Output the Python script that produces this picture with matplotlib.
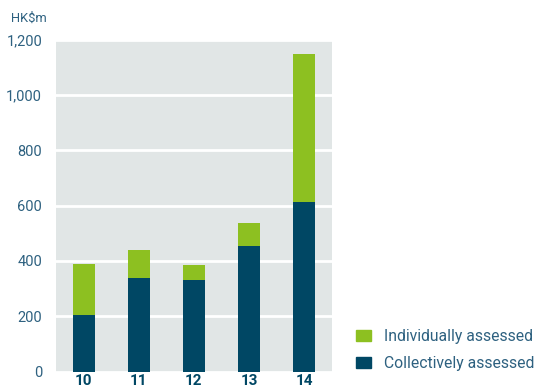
import numpy as np
import matplotlib.pyplot as plt
from matplotlib.patches import Patch

plt.rcParams['font.family'] = ['Roboto', 'DejaVu Sans']

# data
years = ['10', '11', '12', '13', '14']
collective = [203, 338, 330, 455, 615]
individual = [187, 102, 55, 83, 533]

navy = '#004764'
green = '#8dc021'
text_col = '#2e6180'
bg = '#e1e6e6'

fig = plt.figure(figsize=(5.36, 3.87), dpi=100)
ax = fig.add_axes([0.1045, 0.040, 0.5145, 0.857])
ax.set_facecolor(bg)

x = np.arange(len(years))
ax.bar(x, collective, width=0.4, color=navy, zorder=3)
ax.bar(x, individual, width=0.4, bottom=collective, color=green, zorder=3)

ax.set_xlim(-0.5, 4.5)
ax.set_ylim(0, 1200)
ax.set_yticks(range(0, 1201, 200))
ax.set_yticklabels(['0', '200', '400', '600', '800', '1,000', '1,200'])
ax.yaxis.grid(True, color='white', linewidth=2, zorder=1)
ax.set_xticks(x)
ax.set_xticklabels(years, fontweight='bold')
for s in ax.spines.values():
    s.set_visible(False)
ax.tick_params(axis='y', length=0, labelsize=10.5, labelcolor=text_col, pad=10)
ax.tick_params(axis='x', length=0, labelsize=11, labelcolor=navy, pad=2)

fig.text(0.021, 0.952, 'HK$m', fontsize=9.3, color=text_col, va='center')

handles = [Patch(color=green), Patch(color=navy)]
fig.legend(handles, ['Individually assessed', 'Collectively assessed'],
           loc='lower left', bbox_to_anchor=(0.638, 0.005), frameon=False,
           fontsize=11.3, labelcolor=text_col, handlelength=0.95, handleheight=0.75,
           handletextpad=0.85, labelspacing=0.75)

fig.savefig('out.png', dpi=100)
